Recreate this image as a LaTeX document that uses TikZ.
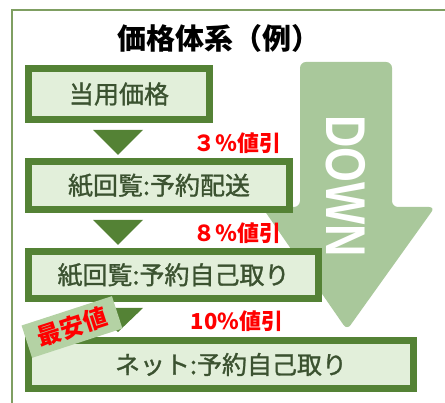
\documentclass[tikz,border=0pt]{standalone}
\usepackage{fontspec}
\setmainfont{Liberation Sans}
\newfontfamily\jp{Noto Sans CJK JP}
\newfontfamily\jpmed{Noto Sans CJK JP}[FakeBold=1.2]
\definecolor{boxgreen}{HTML}{548235}
\definecolor{boxfill}{HTML}{E2EFDA}
\definecolor{boxtext}{HTML}{3B5230}
\definecolor{arrowgreen}{HTML}{A9C89B}
\definecolor{labelgreen}{HTML}{B4D2A4}
\definecolor{framegreen}{HTML}{7F9F62}
\tikzset{stepbox/.style={draw=boxgreen, line width=7pt, fill=boxfill, text=boxtext,
                         font=\jpmed\fontsize{25}{25}\selectfont, inner sep=0pt},
        tridown/.style={fill=boxgreen},
        discount/.style={text=red, font=\jp\bfseries\fontsize{22}{22}\selectfont},
        cheapest/.style={fill=labelgreen, text=red, rotate=18, inner sep=0pt,
                         font=\jp\bfseries\fontsize{24}{24}\selectfont},
        downarrow/.style={fill=arrowgreen, rounded corners=6pt},
        downtext/.style={text=white, rotate=-90, font=\bfseries\fontsize{56}{56}\selectfont},
        frame/.style={draw=framegreen, line width=2pt},
        title/.style={text=black, font=\jp\bfseries\fontsize{29}{29}\selectfont},
        }

\begin{document}
\begin{tikzpicture}[x=1pt, y=-1pt]
    \useasboundingbox (0,0) rectangle (445,403);
    \draw [frame] (12,404) -- (12,10) -- (446,10);

    \node [title] (title) at (219,38) {価格体系（例）};

    % DOWN arrow behind the steps
    \fill [downarrow] (300,207) -- (300,62) -- (392,62) -- (392,207) -- (435,207)
        -- (347,330) -- (262,207) -- cycle;
    \node [downtext] (down) at (346,186) {\scalebox{0.8}[1]{DOWN}};

    \node [stepbox, minimum width=181pt, minimum height=51pt] (regular) at (119,94) {当用価格};
    \node [stepbox, minimum width=261pt, minimum height=48pt] (paperdelivery) at (159,185.5) {紙回覧:予約配送};
    \node [stepbox, minimum width=290pt, minimum height=47pt] (paperpickup) at (173.5,275) {紙回覧:予約自己取り};
    \node [stepbox, minimum width=385pt, minimum height=48pt] (netpickup) at (221,364.5) {\hspace*{20pt}ネット:予約自己取り};

    \fill [tridown] (93,130) -- (143,130) -- (118,155) -- cycle;
    \fill [tridown] (93,220) -- (143,220) -- (118,245) -- cycle;
    \fill [tridown] (93,308) -- (143,308) -- (118,332) -- cycle;

    \node [discount] (cut3) at (237,143) {３％値引};
    \node [discount] (cut8) at (237,233) {８％値引};
    \node [discount] (cut10) at (237,321) {10\%値引};

    \node [cheapest, minimum width=95pt, minimum height=34pt] (lowest) at (72,327) {最安値};
\end{tikzpicture}
\end{document}
